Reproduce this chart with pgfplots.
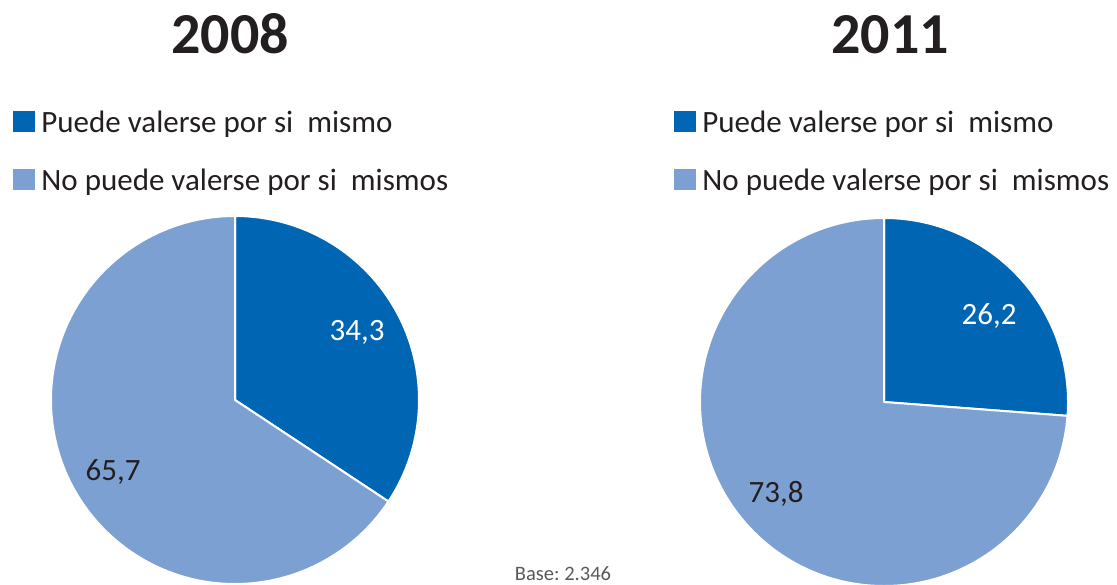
\documentclass[border=0pt]{standalone}
\usepackage{pgfplots}
\pgfplotsset{compat=1.18}
\usepackage{pgfplotstable}
\usepackage{fontspec}
\setmainfont{Carlito}

\definecolor{oscuro}{HTML}{0066B3}
\definecolor{claro}{HTML}{7DA0D2}
\definecolor{texto}{HTML}{231F20}
\definecolor{nota}{HTML}{595959}

% centro del pastel (px) y porcentajes
\pgfplotstableread{
cx cy puede nopuede
235 400 34.3 65.7
}\datosA
\pgfplotstableread{
cx cy puede nopuede
884 402 26.2 73.8
}\datosB

\def\radio{184bp}
% cuna: desde las 12 en punto hasta \angfin
\pgfdeclareplotmark{cunha}{%
  \pgfpathmoveto{\pgfpointorigin}%
  \pgfpathlineto{\pgfpointpolar{90}{\radio}}%
  \pgfpatharc{90}{\angfin}{\radio}%
  \pgfpathclose
  \pgfusepathqfillstroke}

\pgfplotsset{
  lienzo/.style={
    at={(0,0)}, anchor=south west,
    scale only axis, width=1117bp, height=585bp,
    xmin=0, xmax=1117, ymin=0, ymax=585, y dir=reverse,
    axis lines=none, clip=false,
    legend cell align=left,
    legend style={draw=none, fill=none, inner sep=0pt, outer sep=0pt,
      anchor=north west, text=texto,
      font=\fontsize{31bp}{36bp}\selectfont,
      nodes={inner sep=0pt, text height=21bp, text depth=0bp},
      row sep=36bp, /tikz/column 1/.style={column sep=7bp}},
  },
  cunaoscura/.style={only marks, mark=cunha,
    mark options={fill=oscuro, draw=white, line width=2bp, line join=round},
    visualization depends on={90-3.6*\thisrow{puede} \as \angfin},
    legend image code/.code={\fill[oscuro] (0bp,-9bp) rectangle (21bp,11bp);}},
  cunaclara/.style={only marks, mark=cunha,
    mark options={fill=claro, draw=white, line width=2bp, line join=round},
    visualization depends on={90+3.6*\thisrow{nopuede} \as \angfin},
    legend image code/.code={\fill[claro] (0bp,-9bp) rectangle (21bp,11bp);}},
}

\begin{document}
\frenchspacing
\begin{tikzpicture}
\begin{axis}[lienzo,
  legend style={at={(axis description cs:0.01164,0.81026)}}]
\addplot[cunaoscura] table[x=cx, y=cy] {\datosA};
\addplot[cunaclara] table[x=cx, y=cy] {\datosA};
\legend{Puede valerse por si\ \ mismo, No puede valerse por si\ \ mismos}
\node[font=\bfseries\fontsize{58bp}{60bp}\selectfont, text=texto, anchor=base] at (axis cs:230,54) {2008};
\node[font=\fontsize{20.5bp}{22bp}\selectfont, text=nota, anchor=base] at (axis cs:563,580) {Base: 2.346};
\end{axis}
\begin{axis}[lienzo,
  legend style={at={(axis description cs:0.60340,0.81026)}}]
\addplot[cunaoscura] table[x=cx, y=cy] {\datosB};
\addplot[cunaclara] table[x=cx, y=cy] {\datosB};
\legend{Puede valerse por si\ \ mismo, No puede valerse por si\ \ mismos}
\node[font=\bfseries\fontsize{58bp}{60bp}\selectfont, text=texto, anchor=base] at (axis cs:890,54) {2011};
\end{axis}
% etiquetas de valor, encima de las cunas (1 unidad = 1bp, y desde abajo)
\begin{scope}[every node/.style={font=\fontsize{31bp}{36bp}\selectfont}]
\node[text=white] at (357bp,253bp) {34,3};
\node[text=texto] at (113bp,113bp) {65,7};
\node[text=white] at (989bp,269bp) {26,2};
\node[text=texto] at (776bp,91bp) {73,8};
\end{scope}
\pgfresetboundingbox
\path (0,0) rectangle (1117bp,585bp);
\end{tikzpicture}
\end{document}
